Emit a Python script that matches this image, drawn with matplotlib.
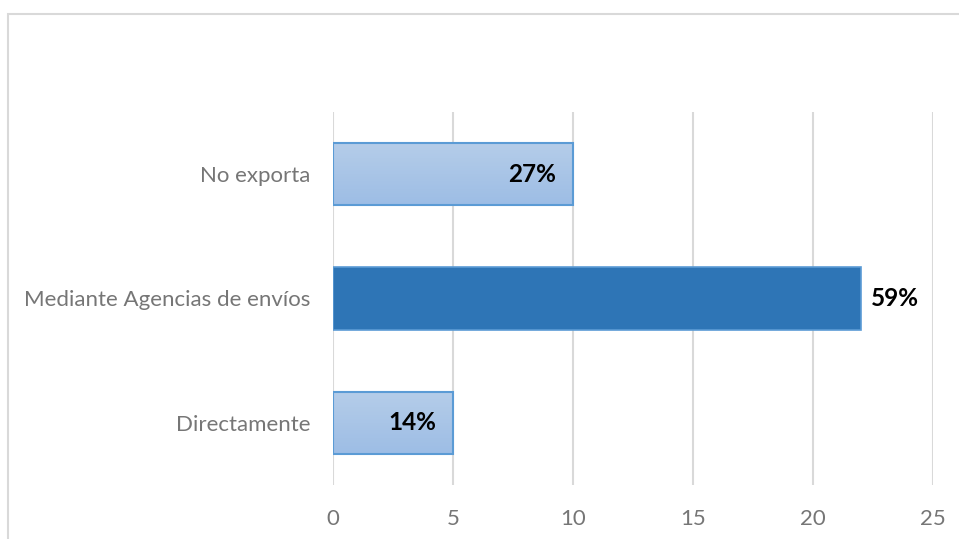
import numpy as np
import matplotlib
matplotlib.use('Agg')
import matplotlib.pyplot as plt
from matplotlib.patches import Rectangle

categories = ['Directamente', 'Mediante Agencias de envíos', 'No exporta']
counts = [5, 22, 10]
shares = ['14%', '59%', '27%']
solid = [False, True, False]
label_inside = [True, False, True]
xticks = [0, 5, 10, 15, 20, 25]

plt.rcParams['font.family'] = ['Lato', 'DejaVu Sans']

fig = plt.figure(figsize=(9.59, 5.39), dpi=100)
ax = fig.add_axes([0.3472, 0.1002, 0.6257, 0.692])

# outer chart frame
fig.patches.append(Rectangle((8 / 959, -0.1), 1.0, 1 - 14 / 539 + 0.1,
                             transform=fig.transFigure, fill=False,
                             edgecolor='#d9d9d9', linewidth=1.5, zorder=0))

ypos = np.arange(len(categories))
height = 0.5
grad = np.linspace(0, 1, 64).reshape(-1, 1)
cmap = matplotlib.colors.LinearSegmentedColormap.from_list('fill', ['#9dbde5', '#b5cde9'])

for y, v, s in zip(ypos, counts, solid):
    if s:
        ax.barh(y, v, height=height, color='#2e75b6', edgecolor='#5b9bd5',
                linewidth=1.2, zorder=3)
    else:
        bar = ax.barh(y, v, height=height, color='none', edgecolor='#5b9bd5',
                      linewidth=1.5, zorder=4)[0]
        im = ax.imshow(grad, extent=(0, v, y - height / 2, y + height / 2),
                       cmap=cmap, aspect='auto', origin='lower', zorder=3)
        im.set_clip_path(bar)

for y, v, lab, inside in zip(ypos, counts, shares, label_inside):
    if inside:
        ax.annotate(lab, (v, y), xytext=(-12, 0), textcoords='offset points',
                    ha='right', va='center', fontsize=17.5, fontweight='bold', color='black', zorder=5)
    else:
        ax.annotate(lab, (v, y), xytext=(7, 0), textcoords='offset points',
                    ha='left', va='center', fontsize=17.5, fontweight='bold', color='black', zorder=5)

ax.set_xlim(0, 25)
ax.set_ylim(-0.5, 2.5)
ax.set_xticks(xticks)
ax.set_yticks(ypos)
ax.set_yticklabels(categories)
ax.grid(axis='x', color='#d9d9d9', linewidth=1.5, zorder=0)
ax.set_axisbelow(True)
for sp in ax.spines.values():
    sp.set_visible(False)
ax.tick_params(axis='both', length=0, labelsize=16, labelcolor='#767676')
ax.tick_params(axis='x', pad=17)
ax.tick_params(axis='y', pad=16)

fig.savefig('out.png', dpi=100)
